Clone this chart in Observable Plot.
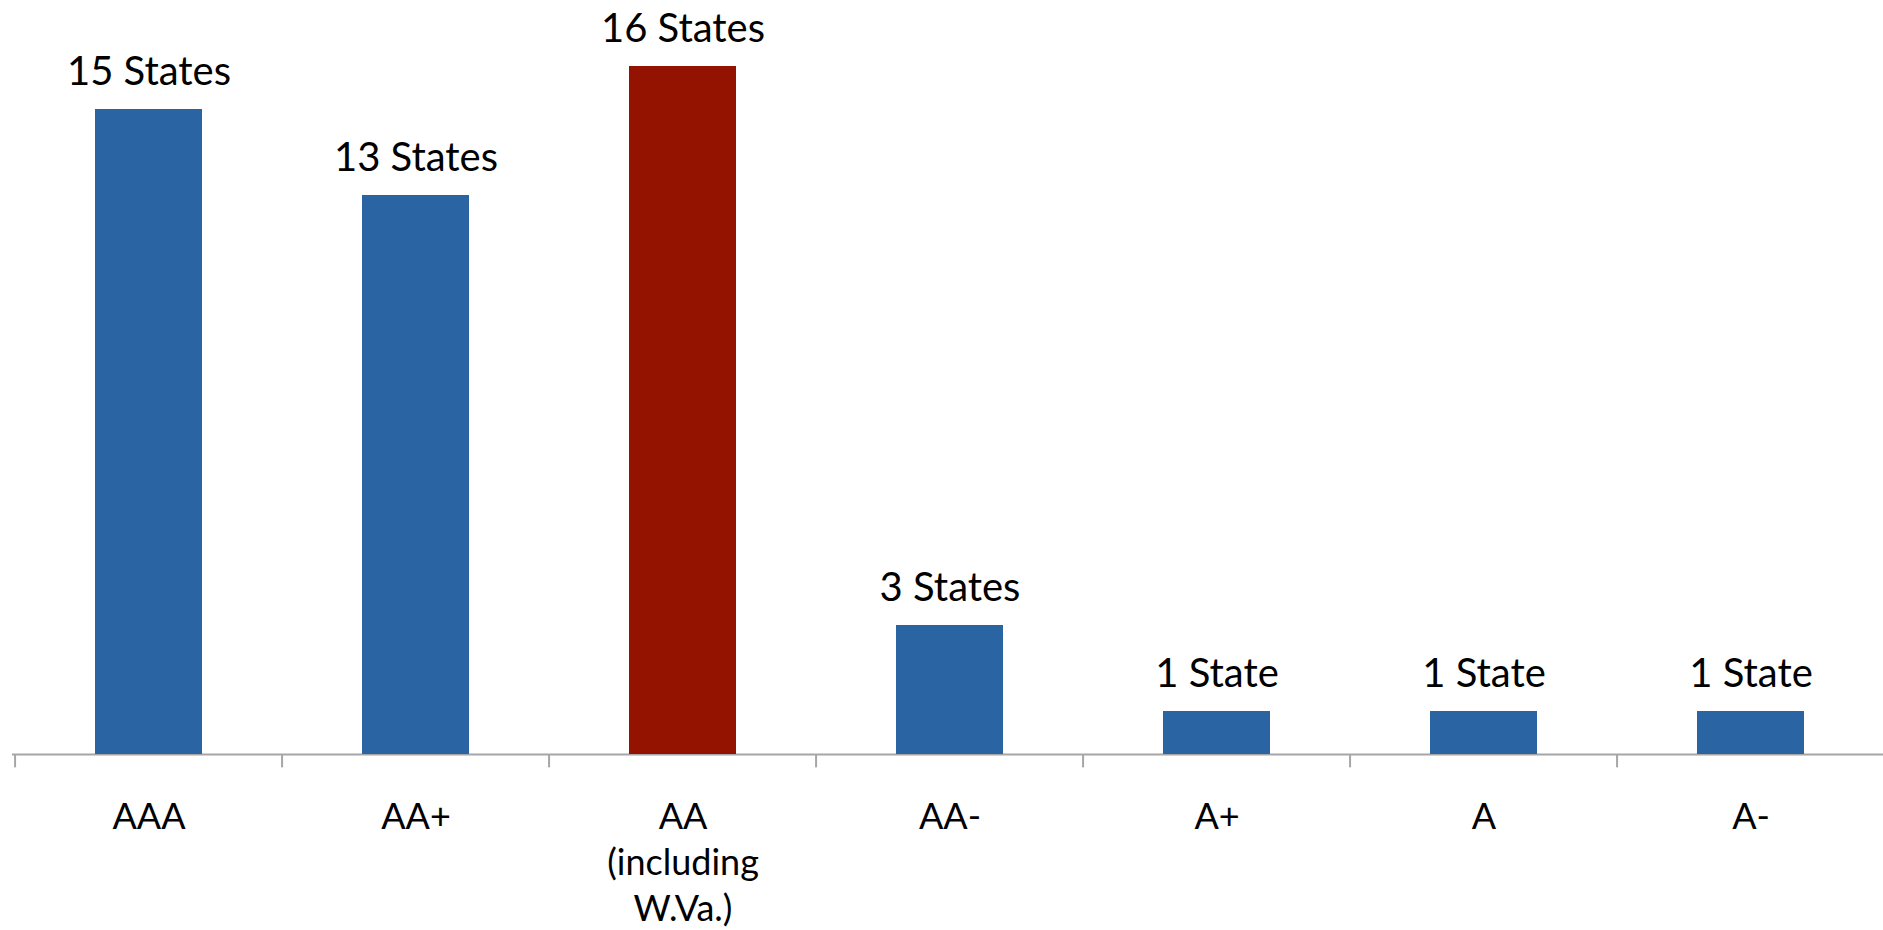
<!DOCTYPE html>
<html>
<head>
<meta charset="utf-8">
<script src="https://cdn.jsdelivr.net/npm/d3@7"></script>
<script src="https://cdn.jsdelivr.net/npm/@observablehq/plot@0.6"></script>
<style>
  html, body { margin: 0; padding: 0; background: #fff; }
  #chart svg { display: block; }
</style>
</head>
<body>
<div id="chart"></div>
<script>
const categories = ["AAA", "AA+", "AA\n(including\nW.Va.)", "AA-", "A+", "A", "A-"];
const counts = [15, 13, 16, 3, 1, 1, 1];
const valueLabels = ["15 States", "13 States", "16 States", "3 States", "1 State", "1 State", "1 State"];
const highlighted = ["AA\n(including\nW.Va.)"];

const data = categories.map((c, i) => ({category: c, count: counts[i], label: valueLabels[i]}));

const W = 1883, H = 930;
const xRange = [12, 1887];
const step = (xRange[1] - xRange[0]) / categories.length;
const font = "Lato, 'Open Sans', sans-serif";

const chart = Plot.plot({
  width: W,
  height: H,
  marginLeft: 12,
  marginRight: 0,
  marginTop: 0,
  marginBottom: 0,
  style: {fontFamily: font, background: "#fff"},
  x: {domain: categories, range: xRange, paddingInner: 0.6, paddingOuter: 0.3, axis: null},
  y: {domain: [0, 16], range: [754, 66], axis: null},
  marks: [
    Plot.ruleY([0], {stroke: "#a6a6a6", strokeWidth: 2}),
    Plot.ruleX(categories, {x: d => d, y1: 0, y2: -0.31, dx: -step / 2, stroke: "#a6a6a6", strokeWidth: 2}),
    Plot.barY(data, {
      x: "category", y: "count",
      fill: d => highlighted.includes(d.category) ? "#941200" : "#2a64a2"
    }),
    Plot.text(data, {
      x: "category", y: "count", text: "label",
      dy: -25, lineAnchor: "bottom",
      fontSize: 40, fill: "#000"
    }),
    Plot.text(data, {
      x: "category", y: () => 0, text: "category",
      dy: 42, lineAnchor: "top", lineHeight: 1.28,
      fontSize: 36, fill: "#000"
    })
  ]
});
document.getElementById("chart").appendChild(chart);
</script>
</body>
</html>
